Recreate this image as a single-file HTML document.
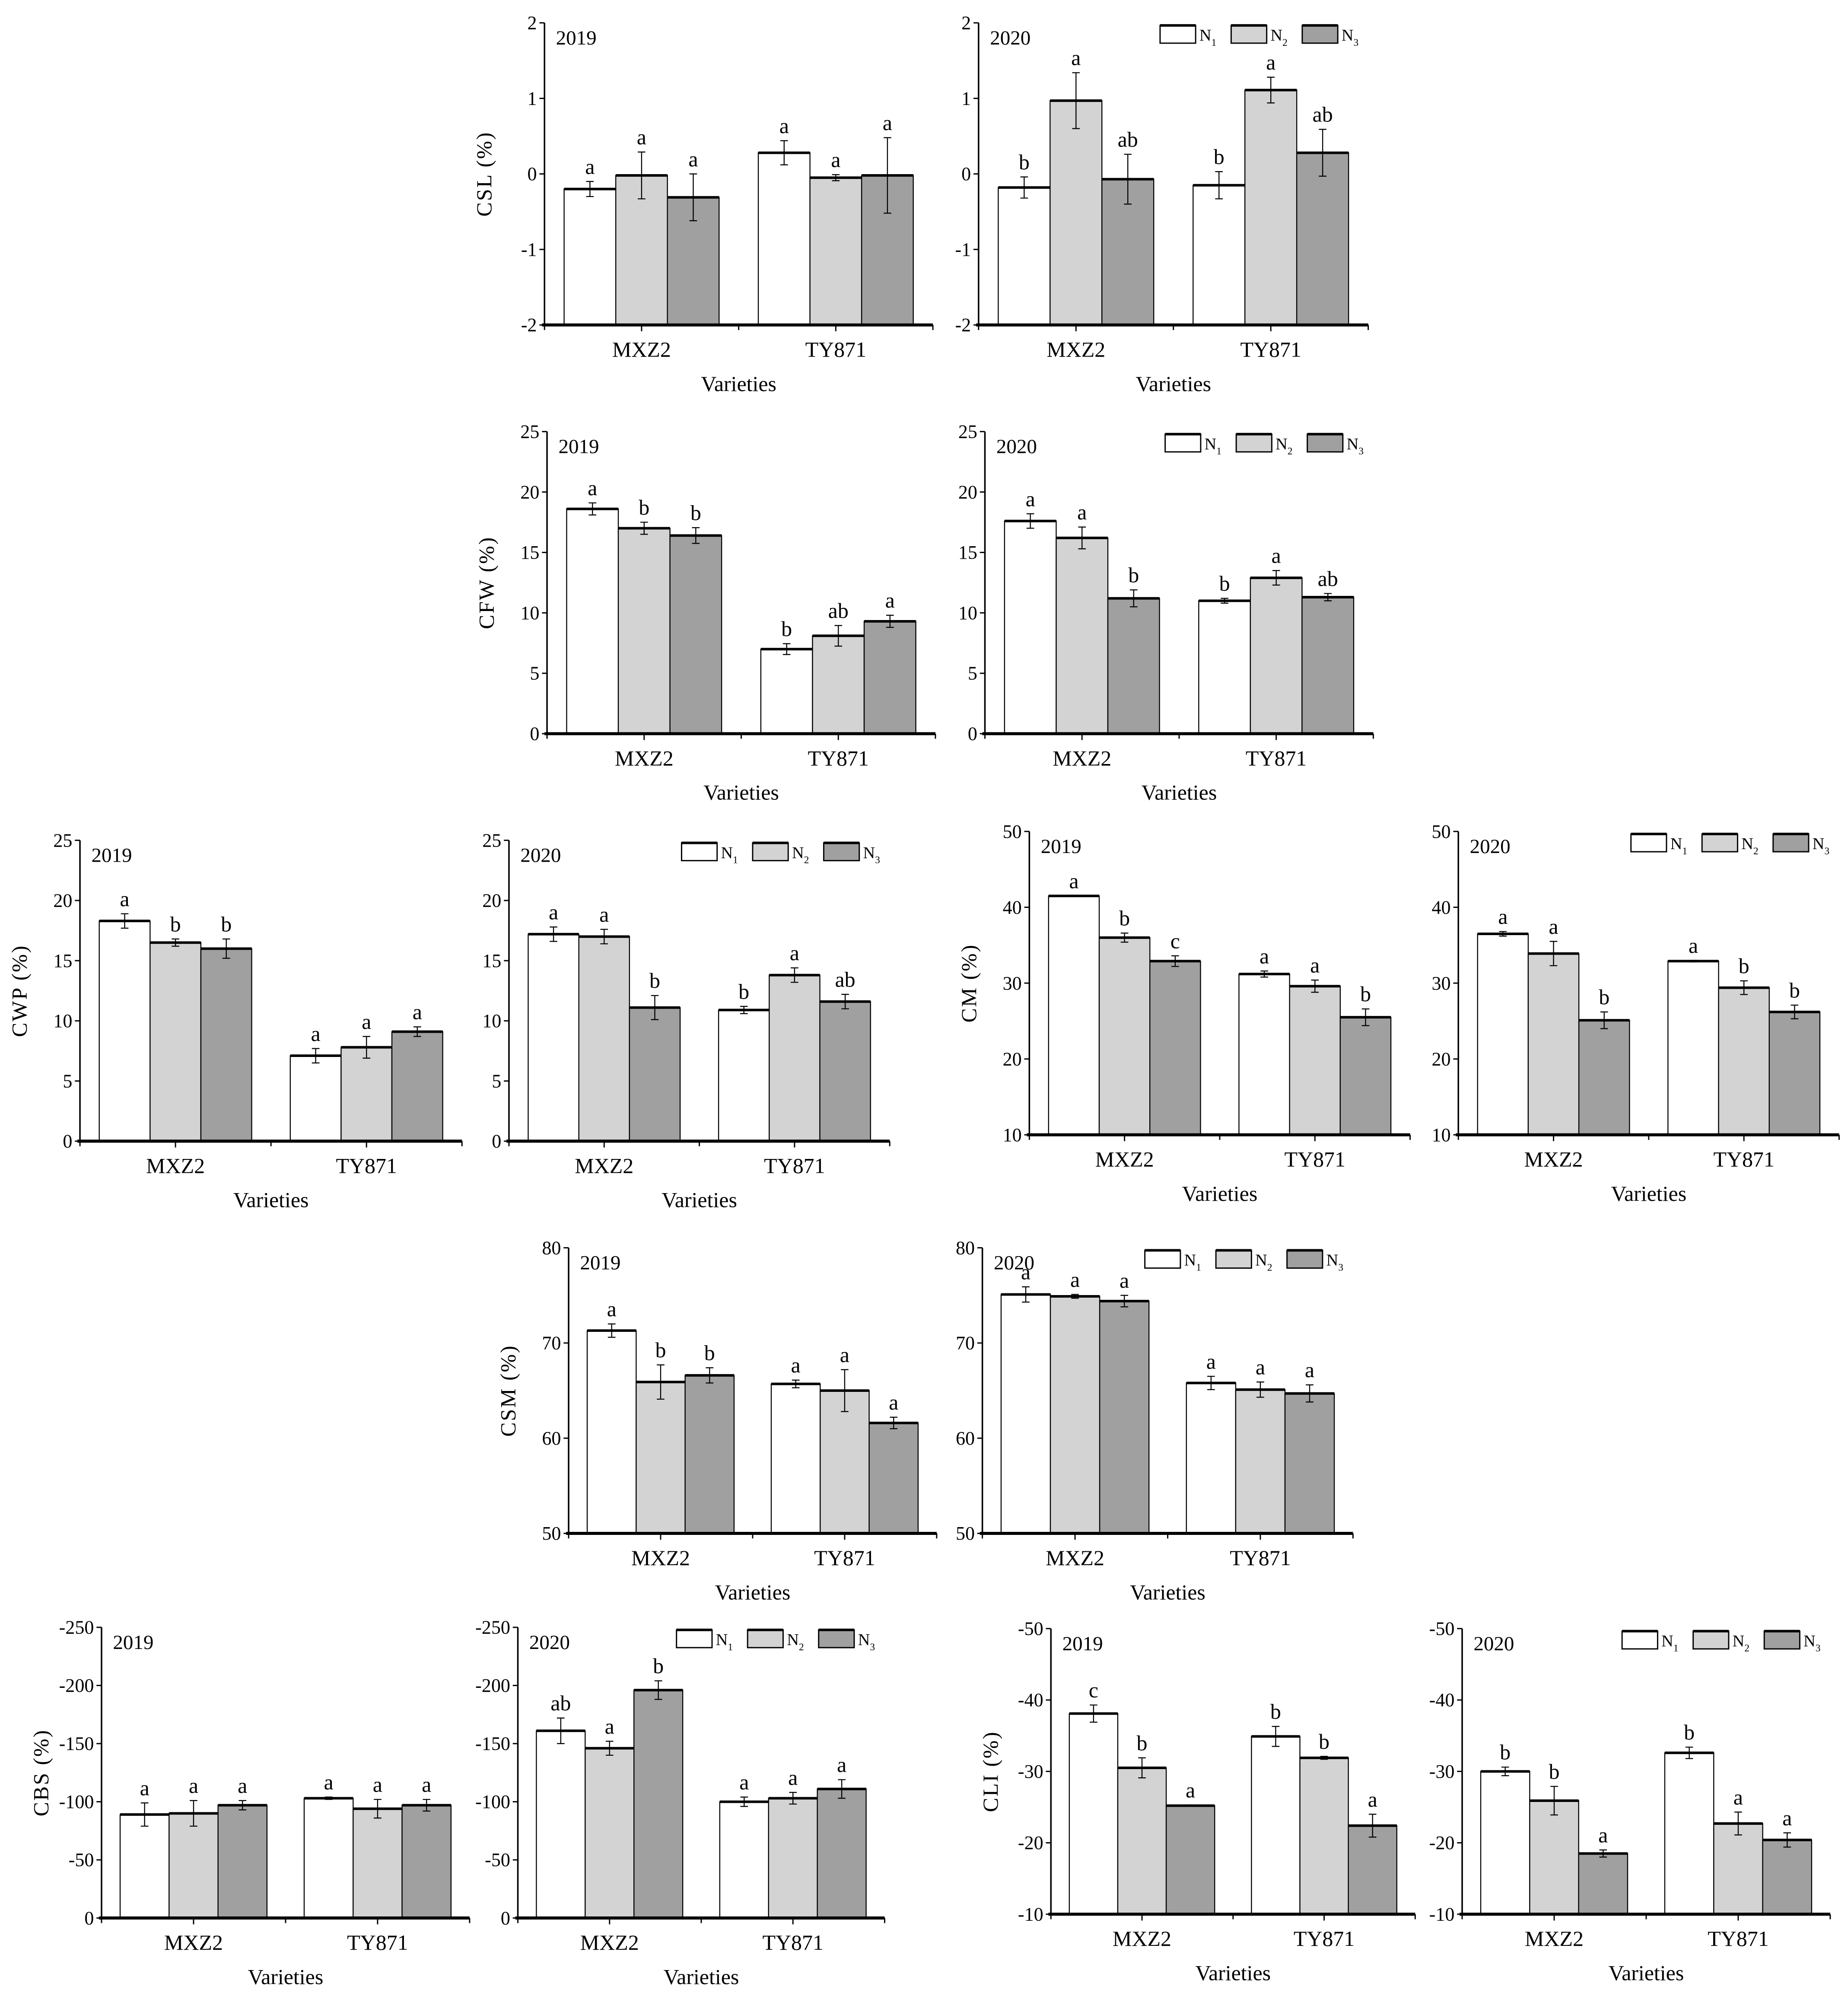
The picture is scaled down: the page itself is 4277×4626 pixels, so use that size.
<!DOCTYPE html>
<html><head><meta charset="utf-8"><style>html,body{margin:0;padding:0;background:#fff}svg{display:block}svg text{font-family:"Liberation Serif","Times New Roman",serif}</style></head>
<body>
<svg id="chart" xmlns="http://www.w3.org/2000/svg" width="4277" height="4626" viewBox="0 0 1456 1574.8"></svg>
<script>
const categories = ["MXZ2", "TY871"];
const seriesNames = ["N1", "N2", "N3"];
const cslTicks = [-2, -1, 0, 1, 2];
const pctTicks = [0, 5, 10, 15, 20, 25];
const cmTicks = [10, 20, 30, 40, 50];
const csmTicks = [50, 60, 70, 80];
const cbsTicks = [0, -50, -100, -150, -200, -250];
const cliTicks = [-10, -20, -30, -40, -50];

const csl19 = [[-0.2, 0.28], [-0.02, -0.05], [-0.31, -0.02]];
const csl19Err = [[0.1, 0.16], [0.31, 0.04], [0.31, 0.5]];
const csl19Let = [["a", "a"], ["a", "a"], ["a", "a"]];
const csl20 = [[-0.18, -0.15], [0.97, 1.11], [-0.07, 0.28]];
const csl20Err = [[0.14, 0.18], [0.37, 0.17], [0.33, 0.31]];
const csl20Let = [["b", "b"], ["a", "a"], ["ab", "ab"]];
const cfw19 = [[18.6, 7.0], [17.0, 8.1], [16.4, 9.3]];
const cfw19Err = [[0.5, 0.45], [0.5, 0.85], [0.65, 0.5]];
const cfw19Let = [["a", "b"], ["b", "ab"], ["b", "a"]];
const cfw20 = [[17.6, 11.0], [16.2, 12.9], [11.2, 11.3]];
const cfw20Err = [[0.6, 0.2], [0.9, 0.6], [0.7, 0.3]];
const cfw20Let = [["a", "b"], ["a", "a"], ["b", "ab"]];
const cwp19 = [[18.3, 7.1], [16.5, 7.8], [16.0, 9.1]];
const cwp19Err = [[0.6, 0.6], [0.3, 0.9], [0.8, 0.4]];
const cwp19Let = [["a", "a"], ["b", "a"], ["b", "a"]];
const cwp20 = [[17.2, 10.9], [17.0, 13.8], [11.1, 11.6]];
const cwp20Err = [[0.6, 0.3], [0.6, 0.6], [1.0, 0.6]];
const cwp20Let = [["a", "b"], ["a", "a"], ["b", "ab"]];
const cm19 = [[41.5, 31.2], [36.0, 29.6], [32.9, 25.5]];
const cm19Err = [[0, 0.4], [0.6, 0.8], [0.7, 1.1]];
const cm19Let = [["a", "a"], ["b", "a"], ["c", "b"]];
const cm20 = [[36.5, 32.9], [33.9, 29.4], [25.1, 26.2]];
const cm20Err = [[0.3, 0.1], [1.6, 0.9], [1.1, 0.9]];
const cm20Let = [["a", "a"], ["a", "b"], ["b", "b"]];
const csm19 = [[71.3, 65.7], [65.9, 65.0], [66.6, 61.6]];
const csm19Err = [[0.7, 0.4], [1.8, 2.2], [0.8, 0.6]];
const csm19Let = [["a", "a"], ["b", "a"], ["b", "a"]];
const csm20 = [[75.1, 65.8], [74.9, 65.1], [74.4, 64.7]];
const csm20Err = [[0.8, 0.7], [0.2, 0.8], [0.6, 0.9]];
const csm20Let = [["a", "a"], ["a", "a"], ["a", "a"]];
const cbs19 = [[-89, -103], [-90, -94], [-97, -97]];
const cbs19Err = [[10, 1], [11, 8], [4, 5]];
const cbs19Let = [["a", "a"], ["a", "a"], ["a", "a"]];
const cbs20 = [[-161, -100], [-146, -103], [-196, -111]];
const cbs20Err = [[11, 4], [6, 5], [8, 8]];
const cbs20Let = [["ab", "a"], ["a", "a"], ["b", "a"]];
const cli19 = [[-38.1, -34.9], [-30.5, -31.9], [-25.2, -22.4]];
const cli19Err = [[1.2, 1.4], [1.4, 0.2], [0.1, 1.6]];
const cli19Let = [["c", "b"], ["b", "b"], ["a", "a"]];
const cli20 = [[-30.0, -32.6], [-25.9, -22.7], [-18.5, -20.4]];
const cli20Err = [[0.6, 0.8], [2.0, 1.6], [0.5, 1.0]];
const cli20Let = [["b", "b"], ["b", "a"], ["a", "a"]];

const NS = "http://www.w3.org/2000/svg";
const svg = document.getElementById("chart");
const fills = ["#ffffff", "#d3d3d3", "#a0a0a0"];
function mk(tag, attrs, parent, text) {
  const e = document.createElementNS(NS, tag);
  for (const k in attrs) e.setAttribute(k, attrs[k]);
  if (text !== undefined) e.textContent = text;
  parent.appendChild(e);
  return e;
}
const panels = [
  {id:"csl-2019", t:"CSL (%)", yr:"2019", x0:429, w:306, yt:18, yb:256, ticks:cslTicks, v:csl19, e:csl19Err, l:csl19Let, leg:false},
  {id:"csl-2020", t:"", yr:"2020", x0:771, w:307, yt:18, yb:256, ticks:cslTicks, v:csl20, e:csl20Err, l:csl20Let, leg:true},
  {id:"cfw-2019", t:"CFW (%)", yr:"2019", x0:431, w:306, yt:340, yb:578, ticks:pctTicks, v:cfw19, e:cfw19Err, l:cfw19Let, leg:false},
  {id:"cfw-2020", t:"", yr:"2020", x0:776, w:306, yt:340, yb:578, ticks:pctTicks, v:cfw20, e:cfw20Err, l:cfw20Let, leg:true},
  {id:"cwp-2019", t:"CWP (%)", yr:"2019", x0:63, w:301, yt:662, yb:899, ticks:pctTicks, v:cwp19, e:cwp19Err, l:cwp19Let, leg:false},
  {id:"cwp-2020", t:"", yr:"2020", x0:401, w:300, yt:662, yb:899, ticks:pctTicks, v:cwp20, e:cwp20Err, l:cwp20Let, leg:true},
  {id:"cm-2019", t:"CM (%)", yr:"2019", x0:811, w:300, yt:655, yb:894, ticks:cmTicks, v:cm19, e:cm19Err, l:cm19Let, leg:false},
  {id:"cm-2020", t:"", yr:"2020", x0:1149, w:300, yt:655, yb:894, ticks:cmTicks, v:cm20, e:cm20Err, l:cm20Let, leg:true},
  {id:"csm-2019", t:"CSM (%)", yr:"2019", x0:448, w:290, yt:983, yb:1208, ticks:csmTicks, v:csm19, e:csm19Err, l:csm19Let, leg:false},
  {id:"csm-2020", t:"", yr:"2020", x0:774, w:292, yt:983, yb:1208, ticks:csmTicks, v:csm20, e:csm20Err, l:csm20Let, leg:true},
  {id:"cbs-2019", t:"CBS (%)", yr:"2019", x0:80, w:290, yt:1282, yb:1511, ticks:cbsTicks, v:cbs19, e:cbs19Err, l:cbs19Let, leg:false},
  {id:"cbs-2020", t:"", yr:"2020", x0:408, w:289, yt:1282, yb:1511, ticks:cbsTicks, v:cbs20, e:cbs20Err, l:cbs20Let, leg:true},
  {id:"cli-2019", t:"CLI (%)", yr:"2019", x0:828, w:287, yt:1283, yb:1508, ticks:cliTicks, v:cli19, e:cli19Err, l:cli19Let, leg:false},
  {id:"cli-2020", t:"", yr:"2020", x0:1152, w:290, yt:1283, yb:1508, ticks:cliTicks, v:cli20, e:cli20Err, l:cli20Let, leg:true}
];
panels.forEach(p => {
  const g = mk("g", {}, svg);
  
  
  const vb = p.ticks[0], vt = p.ticks[p.ticks.length - 1];
  const y = v => p.yb + (v - vb) / (vt - vb) * (p.yt - p.yb);
  const xc = i => p.x0 + p.w * (0.25 + 0.5 * i);
  const bw = p.w * 0.133;
  for (let s = 0; s < 3; s++) {
    for (let c = 0; c < 2; c++) {
      const val = p.v[s][c], err = p.e[s][c];
      const bx = xc(c) + (s - 1.5) * bw;
      const ty = y(val);
      const top = Math.min(ty, p.yb), h = Math.abs(p.yb - ty);
      const bar = mk("rect", {x:bx, y:top, width:bw, height:h, fill:fills[s], stroke:"#000", "stroke-width":0.8}, g);
      
      
      mk("line", {x1:bx, x2:bx + bw, y1:ty, y2:ty, stroke:"#000", "stroke-width":2}, g);
      const hi = y(val + err), lo = y(val - err);
      const cx = bx + bw / 2;
      const eb = mk("path", {d:`M${cx},${hi}V${lo}M${cx-3},${hi}H${cx+3}M${cx-3},${lo}H${cx+3}`, stroke:"#000", "stroke-width":0.8, fill:"none"}, g);
      
      
      const lt = mk("text", {x:cx, y:Math.min(hi, lo, ty) - 6, "text-anchor":"middle", "font-size":17}, g, p.l[s][c]);
      
      
    }
  }
  const ya = mk("line", {x1:p.x0, x2:p.x0, y1:p.yt, y2:p.yb, stroke:"#000", "stroke-width":1.2}, g);
  
  
  const xa = mk("line", {x1:p.x0 - 2, x2:p.x0 + p.w, y1:p.yb, y2:p.yb, stroke:"#000", "stroke-width":2.4}, g);
  
  
  p.ticks.forEach(t => {
    mk("line", {x1:p.x0 - 4, x2:p.x0, y1:y(t), y2:y(t), stroke:"#000", "stroke-width":1}, g);
    const tl = mk("text", {x:p.x0 - 6, y:y(t) + 5, "text-anchor":"end", "font-size":15}, g, String(t));
    
    
  });
  [0, 0.5, 1].forEach(f => mk("line", {x1:p.x0 + f * p.w, x2:p.x0 + f * p.w, y1:p.yb, y2:p.yb + 4, stroke:"#000", "stroke-width":1}, g));
  categories.forEach((c, i) => {
    mk("line", {x1:xc(i), x2:xc(i), y1:p.yb, y2:p.yb + 5, stroke:"#000", "stroke-width":1}, g);
    const cl = mk("text", {x:xc(i), y:p.yb + 25, "text-anchor":"middle", "font-size":17}, g, c);
    
    
  });
  const xt = mk("text", {x:p.x0 + p.w / 2, y:p.yb + 52, "text-anchor":"middle", "font-size":17}, g, "Varieties");
  
  
  const yr = mk("text", {x:p.x0 + 9, y:p.yt + 17, "font-size":16}, g, p.yr);
  
  
  if (p.t) {
    const cy = (p.yt + p.yb) / 2;
    const yt = mk("text", {x:p.x0 - 42, y:cy, "text-anchor":"middle", "font-size":17, transform:`rotate(-90 ${p.x0 - 42} ${cy})`, "letter-spacing":"1"}, g, p.t);
    
    
  }
  if (p.leg) {
    const lx = p.x0 + p.w - 164;
    for (let s = 0; s < 3; s++) {
      const sx = lx + s * 56;
      const sw = mk("rect", {x:sx, y:p.yt + 2, width:28, height:14, fill:fills[s], stroke:"#000", "stroke-width":1}, g);
      
      
      mk("line", {x1:sx, x2:sx + 28, y1:p.yt + 2, y2:p.yt + 2, stroke:"#000", "stroke-width":2}, g);
      const lt = mk("text", {x:sx + 31, y:p.yt + 14, "font-size":13}, g, "N");
      
      
      mk("tspan", {dy:4, "font-size":8}, lt, String(s + 1));
    }
  }
});
</script>
</body></html>
